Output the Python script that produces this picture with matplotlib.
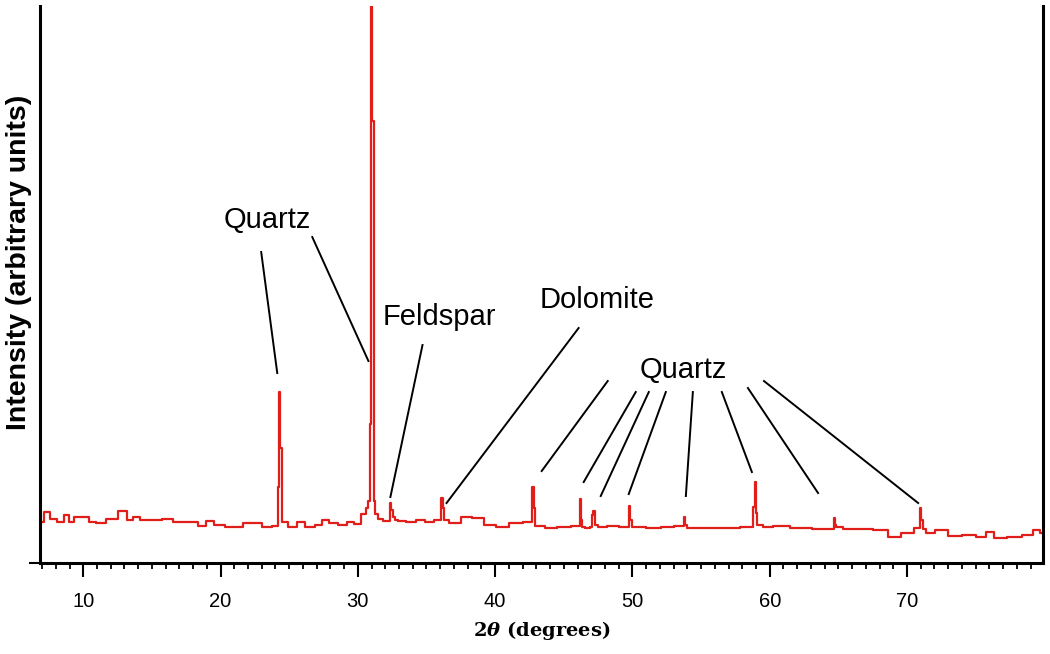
import matplotlib
matplotlib.use("Agg")
import matplotlib.pyplot as plt
from matplotlib.ticker import MultipleLocator

# XRD pattern (2theta in degrees, intensity in arbitrary units)
two_theta = [6.9, 7.4, 7.8, 8.4, 8.8, 9.1, 9.5, 10.2, 10.7, 11.2, 12.1, 12.9, 13.4,
             13.9, 14.3, 15.3, 16.1, 17.0, 18.0, 18.7, 19.2, 19.9, 20.7, 21.4, 21.9,
             22.6, 23.4, 24.1, 24.2, 24.3, 24.4, 24.5, 25.3, 25.8, 26.5, 27.2, 27.6,
             28.2, 28.9, 29.5, 30.0, 30.5, 30.7, 30.8, 30.9, 31.0, 31.1, 31.2, 31.3,
             31.6, 32.0, 32.3, 32.4, 32.5, 32.6, 32.8, 33.0, 34.0, 34.5, 35.3, 35.8,
             35.95, 36.15, 36.25, 36.35, 37.0, 38.0, 38.7, 39.7, 40.4, 41.6, 42.4,
             42.65, 42.75, 42.85, 42.95, 43.3, 44.0, 45.0, 46.0, 46.1, 46.2, 46.3,
             46.4, 46.75, 47.0, 47.1, 47.2, 47.3, 47.7, 48.6, 49.4, 49.7, 49.8, 49.9,
             50.0, 50.4, 51.6, 52.6, 53.5, 53.7, 53.8, 53.9, 54.0, 54.3, 55.0, 57.0,
             58.6, 58.75, 58.85, 58.95, 59.05, 59.15, 59.9, 60.6, 62.3, 63.8, 64.6,
             64.7, 64.8, 64.9, 65.75, 66.9, 68.2, 69.0, 70.1, 70.9, 71.0, 71.1, 71.2,
             71.6, 72.5, 73.5, 74.5, 75.5, 76.0, 76.7, 77.9, 78.9, 79.4, 79.9]
intensity = [41, 51, 44, 41, 48, 41, 46, 46, 41, 40, 44, 52, 43,
             46, 43, 43, 44, 41, 41, 37, 42, 38, 36, 36, 40,
             40, 36, 37, 76, 171, 115, 41, 36, 41, 36, 38, 43,
             40, 38, 41, 39, 49, 55, 62, 139, 560, 442, 62, 49,
             44, 42, 42, 60, 53, 46, 43, 42, 41, 43, 41, 43,
             43, 65, 55, 43, 40, 46, 45, 38, 36, 40, 41,
             41, 76, 55, 37, 37, 35, 36, 37, 37, 64, 43,
             36, 35, 36, 48, 52, 38, 36, 37, 36, 36, 57, 43,
             36, 36, 35, 36, 37, 37, 46, 38, 35, 35, 35, 35,
             36, 36, 56, 81, 50, 38, 36, 37, 35, 34, 34,
             45, 38, 36, 34, 34, 33, 26, 30, 35, 55, 43, 34,
             30, 33, 27, 28, 26, 31, 25, 26, 28, 33, 30]

# phase labels: text, anchor (x, y) in data units
labels = ["Quartz", "Feldspar", "Dolomite", "Quartz"]
label_x = [23.4, 35.95, 47.4, 53.74]
label_y = [335, 238, 255, 185]

# leader lines: start (near label) -> end (near peak)
line_x0 = [22.96, 26.68, 34.71, 46.08, 48.20, 50.24, 51.19, 52.43, 54.40, 56.51, 58.41, 59.58]
line_y0 = [311, 326, 218, 235, 182, 171, 171, 171, 171, 171, 175, 182]
line_x1 = [24.13, 30.77, 32.37, 36.46, 43.39, 46.45, 47.69, 49.73, 53.89, 58.70, 63.52, 70.81]
line_y1 = [190, 202, 66, 60, 92, 81, 67, 69, 67, 91, 70, 60]

plt.rcParams['mathtext.fontset'] = 'custom'
plt.rcParams['mathtext.rm'] = 'DejaVu Serif:bold'
plt.rcParams['mathtext.it'] = 'DejaVu Serif:italic:bold'
plt.rcParams['mathtext.bf'] = 'DejaVu Serif:bold'

fig = plt.figure(figsize=(10.5, 6.54), dpi=100)
ax = fig.add_axes([0.0381, 0.1391, 0.9552, 0.8517])

ax.plot(two_theta, intensity, color='#e01e1a', lw=1.6, drawstyle='steps-mid')

for x0, y0, x1, y1 in zip(line_x0, line_y0, line_x1, line_y1):
    ax.plot([x0, x1], [y0, y1], color='black', lw=1.4)

for t, x, y in zip(labels, label_x, label_y):
    ax.text(x, y, t, ha='center', va='baseline', fontsize=21, family='Liberation Sans')

ax.set_xlim(6.85, 79.9)
ax.set_ylim(0, 557)

ax.spines['top'].set_visible(False)
for s in ['left', 'right', 'bottom']:
    ax.spines[s].set_linewidth(2.2)

ax.xaxis.set_major_locator(MultipleLocator(10))
ax.xaxis.set_minor_locator(MultipleLocator(1))
ax.set_yticks([0])
ax.set_yticklabels([])
ax.tick_params(axis='x', which='major', direction='out', length=10, width=1.5,
               pad=11, labelsize=14.5)
ax.tick_params(axis='x', which='minor', direction='out', length=4, width=1.3)
ax.tick_params(axis='y', which='major', direction='out', length=8, width=1.5)
for lb in ax.get_xticklabels():
    lb.set_family('Liberation Sans')

ax.set_xlabel(r'$2\theta$ (degrees)', fontsize=14, family='DejaVu Serif', fontweight='bold')
ax.xaxis.set_label_coords(0.5, -0.1)
ax.xaxis.label.set_va('top')

ax.set_ylabel('Intensity (arbitrary units)', fontsize=20.5, family='Liberation Sans',
              fontweight='bold')
ax.yaxis.set_label_coords(-0.008, 0.54)

fig.savefig('out.png', dpi=100)
